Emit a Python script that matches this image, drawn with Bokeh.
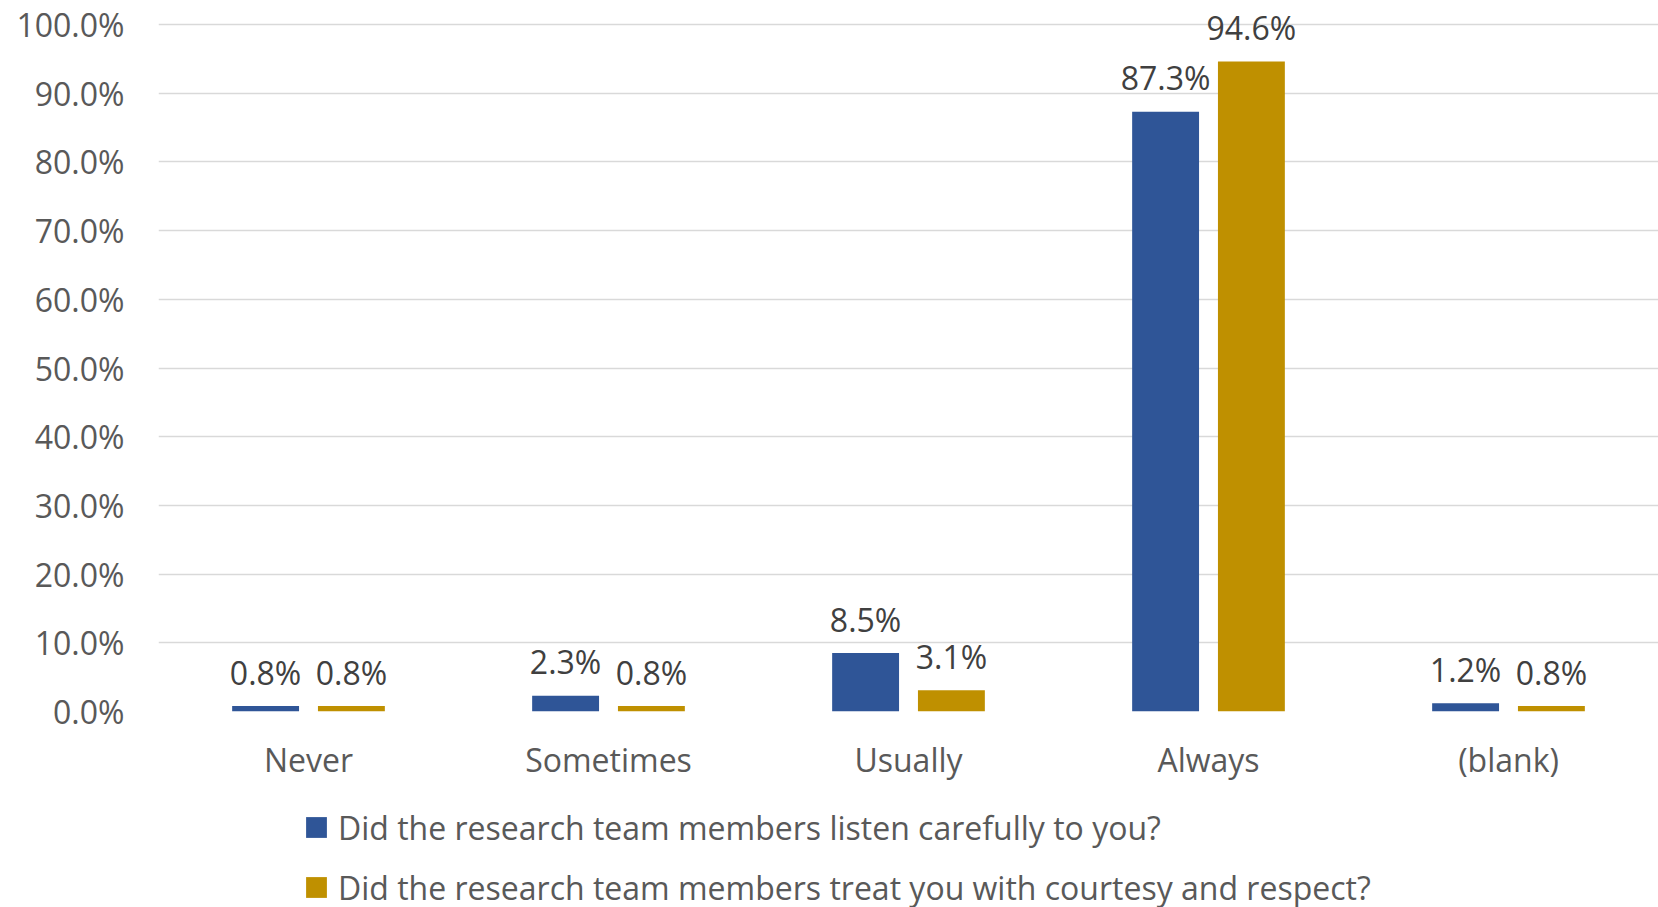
from bokeh.plotting import figure
from bokeh.layouts import column
from bokeh.models import Range1d, FixedTicker, PrintfTickFormatter, ColumnDataSource, Legend, LegendItem
from bokeh.core.properties import value
from bokeh.embed import file_html
from bokeh.resources import INLINE
import numpy as np

categories = ["Never", "Sometimes", "Usually", "Always", "(blank)"]
listen = [0.8, 2.3, 8.5, 87.3, 1.2]
courtesy = [0.8, 0.8, 3.1, 94.6, 0.8]
series_names = ["Did the research team members listen carefully to you?",
                "Did the research team members treat you with courtesy and respect?"]
y_ticks = [0, 10, 20, 30, 40, 50, 60, 70, 80, 90, 100]

FONT = "Open Sans"
FS = "32px"
BLUE = "#2F5597"
GOLD = "#BF9000"

W = 1658
H_MAIN = 790
H_LEG = 117
LEFT = 158
FRAME_H = 711
PX_PER_UNIT = 300

p = figure(width=W, height=H_MAIN, output_backend="svg", toolbar_location=None,
           x_range=Range1d(0, (W - LEFT) / PX_PER_UNIT),
           y_range=Range1d(0, FRAME_H / 6.87),
           min_border_left=LEFT, min_border_right=0, min_border_top=0,
           min_border_bottom=H_MAIN - FRAME_H)
p.outline_line_color = None
p.background_fill_color = "white"

idx = np.arange(len(categories)) + 0.5
off = 0.143
bw = 0.223

src1 = ColumnDataSource(dict(x=idx - off, top=listen, lab=[f"{v:.1f}%" for v in listen]))
src2 = ColumnDataSource(dict(x=idx + off, top=courtesy, lab=[f"{v:.1f}%" for v in courtesy]))

p.vbar(x="x", top="top", width=bw, source=src1, fill_color=BLUE, line_color=None)
p.vbar(x="x", top="top", width=bw, source=src2, fill_color=GOLD, line_color=None)

for s in (src1, src2):
    p.text(x="x", y="top", text="lab", source=s, text_font=value(FONT), text_font_size=FS,
           text_color="#404040", text_align="center", text_baseline="alphabetic", y_offset=-34)

# axes
p.xaxis.ticker = FixedTicker(ticks=list(idx))
p.xaxis.major_label_overrides = {float(x): c for x, c in zip(idx, categories)}
p.xaxis.axis_line_color = None
p.xaxis.major_tick_line_color = None
p.xaxis.minor_tick_line_color = None
p.xaxis.major_tick_out = 0
p.xaxis.major_label_standoff = 26
p.xaxis.major_label_text_font = FONT
p.xaxis.major_label_text_font_size = FS
p.xaxis.major_label_text_color = "#595959"

p.yaxis.ticker = FixedTicker(ticks=y_ticks)
p.yaxis.formatter = PrintfTickFormatter(format="%.1f%%")
p.yaxis.axis_line_color = None
p.yaxis.major_tick_line_color = None
p.yaxis.minor_tick_line_color = None
p.yaxis.major_tick_out = 0
p.yaxis.major_label_standoff = 34
p.yaxis.major_label_text_font = FONT
p.yaxis.major_label_text_font_size = FS
p.yaxis.major_label_text_color = "#595959"

p.xgrid.grid_line_color = None
p.ygrid.grid_line_color = "#D9D9D9"
p.ygrid.grid_line_width = 1.5

# legend strip
q = figure(width=W, height=H_LEG, output_backend="svg", toolbar_location=None,
           x_range=Range1d(0, 1), y_range=Range1d(0, 1),
           x_axis_type=None, y_axis_type=None,
           min_border_left=LEFT, min_border_right=0, min_border_top=0, min_border_bottom=0)
q.outline_line_color = None
q.xgrid.grid_line_color = None
q.ygrid.grid_line_color = None
# zero-size swatch renderers (only their legend glyphs are shown)
lr1 = q.vbar(x=[0], top=[0], bottom=[0], width=0, fill_color=BLUE, line_color=None)
lr2 = q.vbar(x=[0], top=[0], bottom=[0], width=0, fill_color=GOLD, line_color=None)

legend = Legend(items=[LegendItem(label=series_names[0], renderers=[lr1]),
                       LegendItem(label=series_names[1], renderers=[lr2])],
                location=(303 - LEFT, -2), orientation="vertical",
                border_line_color=None, background_fill_alpha=0,
                padding=0, margin=0, spacing=16,
                glyph_width=26, glyph_height=26, label_height=44, label_standoff=9,
                label_text_font=FONT, label_text_font_size=FS, label_text_color="#595959")
q.add_layout(legend, "center")

layout = column(p, q, spacing=0)
open("out.html", "w").write(file_html(layout, INLINE))
